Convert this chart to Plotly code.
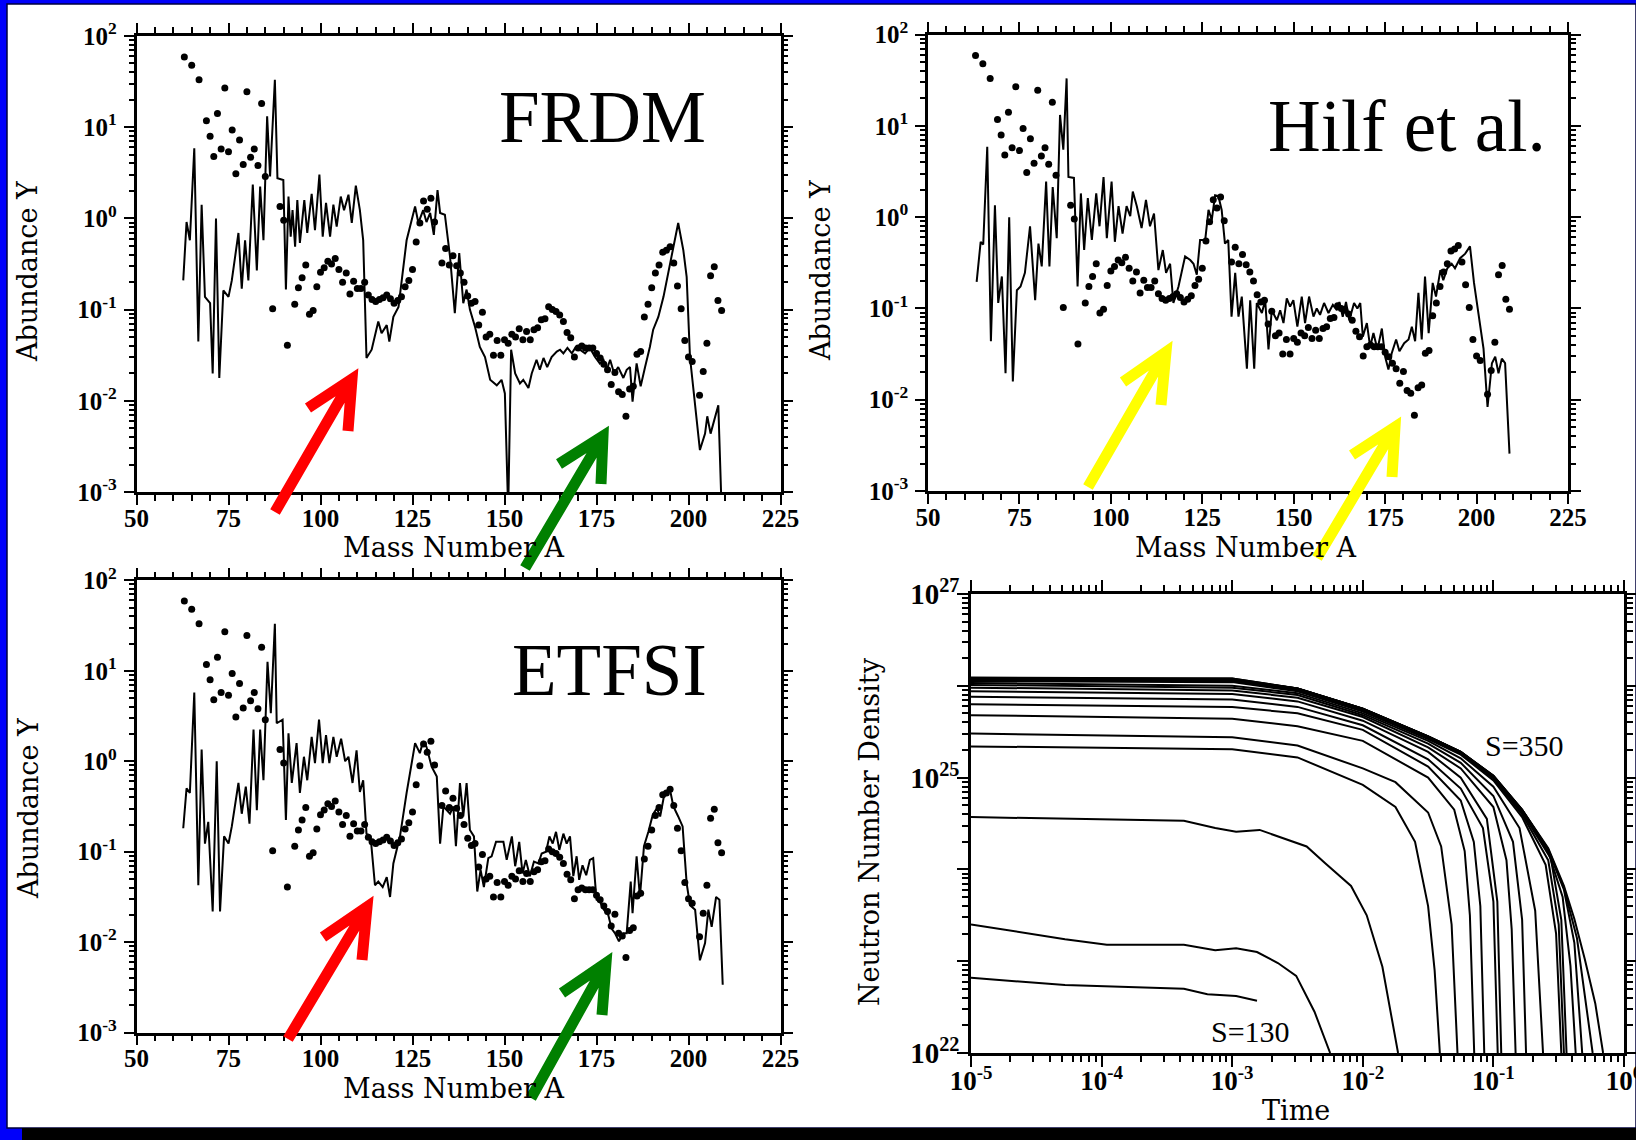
import numpy as np
import plotly.graph_objects as go

W, H = 1636, 1140

# ---------------- r-process abundances (log10 Y) ----------------
# solar r-process residuals (dots), shared by the three mass-model panels
solar_A = [63, 65, 67, 69, 70, 71, 72, 73, 74, 75,
           76, 77, 78, 79, 80, 81, 82, 83, 84, 85,
           87, 89, 90, 91, 93, 94, 95, 96, 97, 98,
           99, 100, 101, 102, 103, 104, 105, 106, 107, 108,
           109, 110, 111, 112, 113, 114, 115, 116, 117, 118,
           119, 120, 121, 122, 123, 124, 125, 126, 127, 128,
           129, 130, 131, 133, 134, 135, 136, 137, 138, 139,
           140, 141, 142, 143, 144, 145, 146, 147, 148, 149,
           150, 151, 152, 153, 154, 155, 156, 157, 158, 159,
           160, 161, 162, 163, 164, 165, 166, 167, 168, 169,
           170, 171, 172, 173, 174, 175, 176, 177, 178, 179,
           180, 181, 182, 183, 184, 185, 186, 187, 188, 189,
           190, 191, 192, 193, 194, 195, 196, 197, 198, 199,
           200, 201, 203, 204, 205, 206, 207, 208, 209]
solar_logY = [1.77, 1.68, 1.52, 1.07, 0.90, 0.68, 1.15, 0.76, 1.43, 0.73,
              0.97, 0.49, 0.86, 0.59, 1.39, 0.67, 0.76, 0.58, 1.26, 0.46,
              -0.99, 0.13, -0.02, -1.39, -0.94, -0.76, -0.65, -0.51, -1.05, -1.01,
              -0.75, -0.59, -0.54, -0.47, -0.50, -0.44, -0.56, -0.70, -0.60, -0.83,
              -0.69, -0.77, -0.77, -0.70, -0.84, -0.89, -0.91, -0.89, -0.87, -0.84,
              -0.88, -0.93, -0.90, -0.86, -0.75, -0.68, -0.56, -0.26, -0.05, 0.19,
              0.10, 0.22, -0.04, -0.49, -0.33, -0.51, -0.41, -0.52, -0.60, -0.70,
              -0.85, -0.93, -0.91, -1.17, -1.03, -1.30, -1.27, -1.50, -1.34, -1.50,
              -1.33, -1.37, -1.27, -1.30, -1.21, -1.33, -1.24, -1.33, -1.22, -1.20,
              -1.11, -1.10, -0.97, -1.00, -1.02, -1.06, -1.13, -1.25, -1.31, -1.52,
              -1.42, -1.40, -1.42, -1.42, -1.42, -1.48, -1.53, -1.60, -1.66, -1.82,
              -1.69, -1.90, -1.93, -2.17, -1.87, -1.84, -1.49, -1.46, -1.08, -0.94,
              -0.76, -0.60, -0.51, -0.37, -0.35, -0.31, -0.49, -0.74, -0.99, -1.34,
              -1.52, -1.57, -1.94, -1.68, -1.37, -0.63, -0.53, -0.90, -1.01]

# FRDM calculation (solid line)
frdm_A = [62.7, 63.6, 64.5, 65.7, 66.8, 67.7, 68.6, 70.0, 70.7, 71.6,
          72.5, 73.6, 75.0, 75.9, 77.7, 78.6, 79.5, 80.4, 81.6, 82.7,
          83.6, 84.5, 85.5, 86.3, 87.6, 88.3, 89.9, 90.6, 91.3, 91.9,
          92.4, 93.1, 93.7, 94.4, 95.6, 96.4, 97.6, 98.5, 99.7, 100.6,
          101.5, 102.6, 103.5, 104.4, 105.5, 106.4, 107.6, 108.5, 109.6, 110.7,
          111.6, 112.5, 113.9, 115.7, 116.6, 118.0, 118.7, 119.8, 121.2, 123.4,
          125.7, 126.6, 127.9, 128.8, 129.8, 130.8, 131.8, 132.5, 133.8, 135.2,
          136.5, 137.7, 138.8, 139.7, 140.6, 142.0, 143.3, 144.7, 146.1, 147.9,
          149.2, 150.1, 151.0, 151.8, 152.9, 154.2, 155.1, 156.5, 157.4, 158.7,
          159.6, 160.6, 161.6, 162.8, 164.2, 165.1, 166.0, 167.1, 168.3, 169.2,
          170.5, 171.9, 173.2, 174.6, 175.9, 176.9, 177.8, 178.7, 179.8, 180.9,
          182.3, 183.2, 184.1, 184.8, 185.9, 187.0, 188.2, 189.5, 190.4, 191.8,
          193.2, 194.5, 195.9, 197.2, 198.6, 199.5, 200.4, 201.8, 203.1, 204.5,
          205.1, 206.0, 208.1, 209.0]
frdm_logY = [-0.68, -0.04, -0.24, 0.77, -1.35, 0.15, -0.86, -0.93, -1.70, 0.00,
             -1.75, -0.79, -0.86, -0.68, -0.16, -0.77, -0.24, -0.68, 0.37, -0.57,
             0.35, -0.24, 1.12, 0.46, 1.52, 0.44, 0.42, -0.78, 0.24, -0.20,
             0.09, -0.31, 0.20, -0.27, 0.20, -0.16, 0.27, -0.13, 0.48, -0.20,
             0.17, -0.20, 0.15, -0.09, 0.24, 0.09, 0.26, -0.05, 0.36, 0.09,
             -0.24, -1.53, -1.44, -1.13, -1.26, -1.17, -1.35, -1.08, -0.97, -0.24,
             0.13, -0.05, 0.09, -0.04, 0.06, -0.18, 0.31, 0.06, 0.04, -0.42,
             -1.04, -0.38, -0.93, -0.78, -1.00, -1.19, -1.41, -1.52, -1.77, -1.83,
             -1.77, -1.92, -3.20, -1.44, -1.70, -1.81, -1.77, -1.86, -1.70, -1.55,
             -1.66, -1.53, -1.63, -1.52, -1.46, -1.44, -1.48, -1.42, -1.48, -1.42,
             -1.44, -1.48, -1.42, -1.52, -1.59, -1.55, -1.66, -1.55, -1.70, -1.63,
             -1.75, -1.66, -1.63, -2.01, -1.59, -1.84, -1.63, -1.41, -1.22, -1.08,
             -0.86, -0.60, -0.31, -0.05, -0.35, -0.64, -1.52, -2.06, -2.54, -2.36,
             -2.17, -2.36, -2.05, -3.20]

# Hilf et al. calculation (solid line)
hilf_A = [63.3, 64.4, 65.1, 66.2, 67.2, 68.3, 69.2, 70.2, 71.2, 72.2,
          73.2, 74.3, 75.3, 76.5, 77.9, 79.3, 80.2, 81.1, 82.3, 83.2,
          84.1, 85.2, 86.1, 87.0, 87.9, 88.4, 89.9, 90.9, 91.8, 92.7,
          93.7, 94.8, 96.0, 96.9, 98.0, 98.9, 100.2, 101.1, 102.1, 103.2,
          104.3, 105.3, 106.0, 107.1, 108.4, 109.6, 110.7, 111.8, 113.0, 114.2,
          115.1, 116.2, 117.1, 118.5, 120.3, 121.7, 122.6, 123.5, 124.4, 125.8,
          126.7, 127.6, 128.5, 129.4, 130.3, 131.2, 132.1, 133.0, 134.0, 134.9,
          135.8, 137.2, 138.1, 139.2, 139.9, 141.3, 142.2, 143.1, 144.0, 145.4,
          146.3, 147.2, 148.1, 149.0, 149.9, 151.0, 152.2, 153.1, 154.2, 155.4,
          156.3, 157.2, 158.3, 159.5, 160.7, 161.8, 162.5, 163.4, 164.3, 165.2,
          166.5, 167.4, 168.2, 168.9, 170.0, 170.9, 171.8, 172.9, 174.1, 175.0,
          175.9, 176.8, 178.0, 178.9, 180.2, 181.4, 182.3, 183.2, 184.1, 185.0,
          185.9, 186.9, 188.0, 188.9, 190.1, 190.9, 192.0, 193.2, 194.1, 195.5,
          196.9, 198.2, 199.3, 200.8, 201.9, 203.0, 204.2, 205.1, 206.0, 206.9,
          207.8, 209.0]
hilf_logY = [-0.71, -0.27, -0.30, 0.77, -1.36, 0.13, -0.94, -0.65, -1.71, 0.00,
             -1.80, -0.80, -0.76, -0.61, -0.10, -0.91, -0.29, -0.54, 0.39, -0.54,
             0.33, -0.23, 1.12, 0.74, 1.52, 0.44, 0.43, -0.76, 0.26, -0.36,
             0.21, -0.25, 0.26, -0.10, 0.44, -0.23, 0.39, -0.27, 0.12, -0.18,
             0.12, 0.01, 0.28, 0.12, -0.12, 0.19, -0.10, 0.04, -0.58, -0.36,
             -0.61, -0.51, -0.94, -0.76, -0.43, -0.47, -0.51, -0.63, -0.25, -0.25,
             0.08, -0.03, 0.24, 0.23, 0.08, -0.29, -0.25, -1.09, -0.61, -1.09,
             -0.87, -1.66, -0.91, -1.66, -0.94, -1.05, -0.91, -1.45, -1.02, -1.13,
             -1.02, -1.16, -0.89, -0.98, -0.91, -1.20, -0.87, -1.16, -0.87, -1.09,
             -1.00, -1.07, -0.94, -1.05, -0.96, -1.02, -0.93, -1.09, -0.93, -1.13,
             -0.94, -1.00, -0.94, -1.31, -1.16, -1.42, -1.27, -1.45, -1.22, -1.53,
             -1.67, -1.49, -1.34, -1.47, -1.38, -1.34, -1.20, -1.36, -0.83, -1.34,
             -0.65, -1.27, -0.72, -0.87, -0.58, -0.69, -0.56, -0.51, -0.56, -0.45,
             -0.40, -0.32, -0.72, -1.13, -1.44, -2.08, -1.60, -1.53, -1.71, -1.55,
             -1.60, -2.59]

# ETFSI calculation (solid line)
etfsi_A = [62.7, 63.6, 64.5, 65.7, 66.8, 67.7, 68.6, 69.5, 70.7, 71.8,
           72.7, 73.8, 75.0, 75.9, 77.7, 78.6, 79.7, 80.7, 81.8, 82.7,
           83.6, 84.5, 85.6, 86.5, 87.6, 88.1, 89.7, 90.6, 91.3, 92.2,
           93.5, 94.4, 95.5, 96.4, 97.6, 98.5, 99.6, 100.6, 101.5, 102.4,
           103.5, 104.4, 105.6, 106.7, 107.6, 108.7, 109.8, 110.7, 111.6, 112.5,
           113.6, 114.8, 115.7, 116.9, 118.0, 118.9, 119.8, 121.6, 123.4, 125.7,
           127.0, 127.9, 128.8, 130.2, 131.6, 132.5, 133.4, 134.3, 135.2, 136.1,
           136.8, 137.9, 138.8, 139.7, 140.6, 141.7, 142.6, 143.5, 144.4, 145.6,
           146.5, 147.7, 149.7, 150.6, 152.0, 152.9, 154.0, 154.9, 155.8, 156.9,
           158.0, 159.2, 160.1, 161.3, 162.2, 163.1, 164.0, 164.9, 166.0, 166.9,
           167.8, 168.7, 169.6, 170.3, 171.2, 172.2, 173.2, 174.1, 175.0, 175.9,
           177.0, 178.2, 179.1, 180.0, 181.1, 182.3, 183.2, 184.3, 184.8, 185.9,
           186.8, 187.9, 189.1, 190.3, 191.4, 192.3, 193.4, 195.0, 195.9, 197.2,
           198.4, 199.5, 200.4, 201.8, 203.1, 204.5, 205.4, 206.3, 207.5, 208.4,
           209.3]
etfsi_logY = [-0.74, -0.30, -0.35, 0.76, -1.37, 0.13, -0.91, -0.67, -1.66, 0.00,
              -1.66, -0.83, -0.91, -0.72, -0.24, -0.58, -0.28, -0.69, 0.35, -0.54,
              0.35, -0.21, 1.10, 0.53, 1.52, 0.42, 0.46, -0.65, 0.31, -0.24,
              0.20, -0.35, 0.05, -0.21, 0.27, -0.02, 0.46, -0.02, 0.29, -0.02,
              0.27, 0.05, 0.25, 0.00, 0.05, -0.24, 0.12, -0.34, -0.21, -0.80,
              -0.83, -1.37, -1.33, -1.39, -1.28, -1.50, -1.13, -0.83, -0.35, 0.20,
              0.09, 0.22, 0.16, -0.06, -0.17, -0.91, -0.50, -0.54, -0.58, -0.50,
              -0.94, -0.24, -0.61, -0.24, -0.76, -0.83, -1.44, -1.20, -1.39, -1.07,
              -1.05, -0.89, -0.89, -1.09, -0.83, -1.16, -0.89, -1.24, -1.09, -1.27,
              -1.11, -1.13, -1.02, -1.00, -0.83, -0.91, -0.78, -0.98, -0.80, -0.91,
              -0.83, -1.27, -1.05, -1.31, -1.15, -1.26, -1.09, -1.07, -1.53, -1.55,
              -1.64, -1.70, -1.85, -1.90, -1.99, -1.90, -1.90, -1.33, -1.68, -1.05,
              -1.50, -0.94, -0.78, -0.59, -0.52, -0.61, -0.37, -0.32, -0.50, -0.61,
              -0.72, -1.35, -1.59, -1.64, -2.20, -2.01, -1.64, -1.83, -1.50, -1.53,
              -2.47]

mass_ticks = [50, 75, 100, 125, 150, 175, 200, 225]
abund_exps = [-3, -2, -1, 0, 1, 2]

# ---------------- neutron number density vs time (log10 t, log10 n) ----------------
density_tracks = [
    # S = 130
    ([-5, -4.28, -3.37, -3.19, -2.97, -2.81],
     [22.82, 22.74, 22.70, 22.64, 22.62, 22.57]),
    ([-5, -4.28, -3.96, -3.37, -3.13, -2.97, -2.81, -2.65, -2.51, -2.37, -2.25],
     [23.40, 23.24, 23.18, 23.18, 23.12, 23.14, 23.10, 22.98, 22.84, 22.45, 22.0]),
    ([-5, -3.37, -3.13, -2.97, -2.79, -2.43, -2.29, -2.09, -1.97, -1.85, -1.73],
     [24.57, 24.53, 24.45, 24.41, 24.43, 24.25, 24.07, 23.82, 23.50, 22.94, 22.0]),
    ([-5, -3.0, -2.5, -2.0, -1.75, -1.6, -1.5, -1.45, -1.41],
     [25.34, 25.31, 25.22, 24.92, 24.68, 24.30, 23.60, 22.90, 22.0]),
    ([-5, -3.0, -2.5, -2.0, -1.75, -1.5, -1.4, -1.32, -1.275],
     [25.48, 25.44, 25.35, 25.10, 24.95, 24.62, 24.25, 23.40, 22.0]),
    ([-5, -3.0, -2.5, -2.0, -1.5, -1.3, -1.22, -1.18, -1.147],
     [25.68, 25.64, 25.56, 25.40, 25.00, 24.65, 24.20, 23.50, 22.0]),
    ([-5, -3.0, -2.5, -2.0, -1.5, -1.25, -1.15, -1.10, -1.07],
     [25.80, 25.77, 25.70, 25.52, 25.12, 24.75, 24.30, 23.60, 22.0]),
    ([-5, -3.0, -2.5, -2.0, -1.5, -1.25, -1.08, -1.00, -0.967],
     [25.88, 25.85, 25.77, 25.57, 25.20, 24.88, 24.45, 23.65, 22.0]),
    ([-5, -3.0, -2.5, -2.0, -1.5, -1.25, -1.05, -0.97, -0.94],
     [25.94, 25.91, 25.83, 25.62, 25.28, 25.00, 24.55, 23.65, 22.0]),
    ([-5, -3.0, -2.5, -2.0, -1.5, -1.25, -1.0, -0.90, -0.86, -0.83],
     [25.98, 25.95, 25.87, 25.66, 25.33, 25.10, 24.68, 24.10, 23.35, 22.0]),
    ([-5, -3.0, -2.5, -2.0, -1.5, -1.25, -1.0, -0.85, -0.78, -0.75],
     [26.01, 25.98, 25.90, 25.68, 25.37, 25.16, 24.80, 24.30, 23.45, 22.0]),
    ([-5, -3.0, -2.5, -2.0, -1.5, -1.25, -1.0, -0.80, -0.68, -0.62],
     [26.03, 26.00, 25.92, 25.70, 25.40, 25.21, 24.90, 24.45, 23.55, 22.0]),
    ([-5, -3.0, -2.5, -2.0, -1.5, -1.25, -1.0, -0.78, -0.60, -0.52, -0.48],
     [26.05, 26.04, 25.94, 25.72, 25.42, 25.25, 24.97, 24.57, 24.05, 23.30, 22.0]),
    ([-5, -3.0, -2.5, -2.0, -1.5, -1.25, -1.0, -0.78, -0.58, -0.50, -0.46],
     [26.06, 26.05, 25.95, 25.73, 25.43, 25.26, 24.99, 24.60, 24.10, 23.40, 22.0]),
    ([-5, -3.0, -2.5, -2.0, -1.5, -1.25, -1.0, -0.78, -0.56, -0.48, -0.44],
     [26.07, 26.06, 25.96, 25.74, 25.44, 25.27, 25.00, 24.62, 24.12, 23.45, 22.0]),
    ([-5, -3.0, -2.5, -2.0, -1.5, -1.25, -1.0, -0.78, -0.58, -0.47, -0.41, -0.37],
     [26.07, 26.07, 25.97, 25.75, 25.45, 25.28, 25.01, 24.64, 24.19, 23.70, 22.95, 22.0]),
    ([-5, -3.0, -2.5, -2.0, -1.5, -1.25, -1.0, -0.78, -0.58, -0.46, -0.38, -0.32],
     [26.08, 26.07, 25.97, 25.75, 25.45, 25.28, 25.02, 24.65, 24.21, 23.78, 23.20, 22.0]),
    ([-5, -3.0, -2.5, -2.0, -1.5, -1.25, -1.0, -0.78, -0.58, -0.46, -0.36, -0.24],
     [26.08, 26.08, 25.97, 25.75, 25.45, 25.28, 25.02, 24.65, 24.22, 23.80, 23.25, 22.0]),
    # S = 350
    ([-5, -3.0, -2.5, -2.0, -1.5, -1.25, -1.0, -0.78, -0.58, -0.46, -0.38, -0.30, -0.22, -0.16],
     [26.09, 26.08, 25.97, 25.75, 25.45, 25.28, 25.02, 24.65, 24.23, 23.82, 23.46, 23.02, 22.54, 22.0]),
]

time_exps = [-5, -4, -3, -2, -1, 0]
density_exps = [22, 23, 24, 25, 26, 27]
density_labelled = [22, 25, 27]

# ---------------- page geometry helpers ----------------
def fx(px):
    return px / W


def fy(py):
    return 1 - py / H


SERIF = "Liberation Serif"
TITLE_FONT = dict(family="DejaVu Serif", size=27, color="black")
TICK_FONT = dict(family=SERIF, size=25, color="black", weight="bold")
TIME_TICK_FONT = dict(family=SERIF, size=27, color="black", weight="bold")
DENSITY_TICK_FONT = dict(family=SERIF, size=29, color="black", weight="bold")


def pow10(v):
    return np.power(10.0, np.asarray(v, dtype=float))


def sup(e):
    return f"10<sup>{e}</sup>"


def log_minor(lo, hi):
    return [k * 10.0 ** d for d in range(lo, hi) for k in range(2, 10)]


def mass_axis(x0, x1, anchor):
    return dict(domain=[fx(x0), fx(x1)], anchor=anchor, range=[50, 225],
                tickmode="array", tickvals=mass_ticks,
                ticks="outside", ticklen=10, tickwidth=2, tickcolor="black",
                minor=dict(tickmode="linear", tick0=50, dtick=5, ticks="outside",
                           ticklen=6, tickwidth=1.5, tickcolor="black", showgrid=False),
                showline=True, linewidth=2.5, linecolor="black", mirror="ticks",
                showgrid=False, zeroline=False, tickfont=TICK_FONT,
                ticklabelstandoff=-8)


def abund_axis(y0, y1, anchor):
    return dict(domain=[fy(y1), fy(y0)], anchor=anchor, type="log", range=[-3, 2],
                tickmode="array", tickvals=[10.0 ** e for e in abund_exps],
                ticktext=[sup(e) for e in abund_exps],
                ticks="outside", ticklen=10, tickwidth=2, tickcolor="black",
                minor=dict(tickmode="array", tickvals=log_minor(-3, 2), ticks="outside",
                           ticklen=5, tickwidth=1.5, tickcolor="black", showgrid=False),
                showline=True, linewidth=2.5, linecolor="black", mirror="ticks",
                showgrid=False, zeroline=False, tickfont=TICK_FONT,
                ticklabelstandoff=2)


fig = go.Figure()

panels = [("x", "y", frdm_A, frdm_logY),
          ("x2", "y2", hilf_A, hilf_logY),
          ("x3", "y3", etfsi_A, etfsi_logY)]
for xa, ya, a_vals, logy in panels:
    fig.add_trace(go.Scatter(x=a_vals, y=pow10(logy), xaxis=xa, yaxis=ya,
                             mode="lines", line=dict(color="black", width=2),
                             hoverinfo="skip"))
    fig.add_trace(go.Scatter(x=solar_A, y=pow10(solar_logY), xaxis=xa, yaxis=ya,
                             mode="markers", marker=dict(color="black", size=7),
                             hoverinfo="skip"))

for logt, logn in density_tracks:
    fig.add_trace(go.Scatter(x=pow10(logt), y=pow10(logn), xaxis="x4", yaxis="y4",
                             mode="lines", line=dict(color="black", width=2),
                             hoverinfo="skip"))

layout = dict(
    width=W, height=H, margin=dict(l=0, r=0, t=0, b=0, autoexpand=False),
    paper_bgcolor="rgb(0,0,250)", plot_bgcolor="white", showlegend=False,
    xaxis=mass_axis(136.5, 780.5, "y"), yaxis=abund_axis(36, 492, "x"),
    xaxis2=mass_axis(928, 1568, "y2"), yaxis2=abund_axis(34.6, 491, "x2"),
    xaxis3=mass_axis(136.5, 780.5, "y3"), yaxis3=abund_axis(580.3, 1032.7, "x3"),
    xaxis4=dict(domain=[fx(971), fx(1624)], anchor="y4", type="log", range=[-5, 0],
                tickmode="array", tickvals=[10.0 ** e for e in time_exps],
                ticktext=[sup(e) for e in time_exps],
                ticks="outside", ticklen=11, tickwidth=2, tickcolor="black",
                minor=dict(tickmode="array", tickvals=log_minor(-5, 0), ticks="outside",
                           ticklen=6, tickwidth=1.5, tickcolor="black", showgrid=False),
                showline=True, linewidth=2.5, linecolor="black", mirror="ticks",
                showgrid=False, zeroline=False, tickfont=TIME_TICK_FONT,
                ticklabelstandoff=-9, ticklabeloverflow="allow"),
    yaxis4=dict(domain=[fy(1053), fy(594)], anchor="x4", type="log", range=[22, 27],
                tickmode="array", tickvals=[10.0 ** e for e in density_exps],
                ticktext=[sup(e) if e in density_labelled else "" for e in density_exps],
                ticks="outside", ticklen=11, tickwidth=2, tickcolor="black",
                minor=dict(tickmode="array", tickvals=log_minor(22, 27), ticks="outside",
                           ticklen=6, tickwidth=1.5, tickcolor="black", showgrid=False),
                showline=True, linewidth=2.5, linecolor="black", mirror="ticks",
                showgrid=False, zeroline=False, tickfont=DENSITY_TICK_FONT,
                ticklabelstandoff=-8),
)

# page frame: blue slide border, white sheet, black strip at the bottom
shapes = [
    dict(type="rect", xref="paper", yref="paper", x0=fx(7), x1=fx(W), y0=fy(1128), y1=fy(4),
         fillcolor="white", line=dict(color="rgb(0,0,60)", width=1.5), layer="below"),
    dict(type="rect", xref="paper", yref="paper", x0=fx(22), x1=fx(W), y0=fy(H), y1=fy(1128),
         fillcolor="black", line=dict(width=0), layer="above"),
]

# highlight arrows: (tail, tip, left barb, lower barb, colour)
arrows = [
    ((275, 512), (352, 379), (308, 408), (348, 431), "rgb(255,0,0)"),
    ((525, 568), (603, 436), (559, 464), (601, 484), "rgb(0,128,0)"),
    ((1088, 487), (1166, 352), (1123, 382), (1161, 405), "rgb(255,255,0)"),
    ((1317, 558), (1395, 427), (1352, 455), (1392, 477), "rgb(255,255,0)"),
    ((288, 1039), (367, 907), (323, 937), (362, 960), "rgb(255,0,0)"),
    ((531, 1098), (606, 963), (562, 993), (602, 1015), "rgb(0,128,0)"),
]
for tail, tip, barb1, barb2, col in arrows:
    p = lambda pt: f"{fx(pt[0]):.5f},{fy(pt[1]):.5f}"
    path = f"M{p(tail)} L{p(tip)} M{p(barb1)} L{p(tip)} L{p(barb2)}"
    shapes.append(dict(type="path", xref="paper", yref="paper", path=path,
                       line=dict(color=col, width=11), layer="above"))
layout["shapes"] = shapes

# text: panel names, axis titles, entropy labels
def label(text, x, y, font, angle=0, xanchor="center"):
    return dict(text=text, x=fx(x), y=fy(y), xref="paper", yref="paper",
                xanchor=xanchor, yanchor="middle", showarrow=False,
                textangle=angle, font=font)


BIG = dict(family=SERIF, size=73, color="black")
SLABEL = dict(family=SERIF, size=30, color="black")
layout["annotations"] = [
    label("FRDM", 497, 118, BIG, xanchor="left"),
    label("Hilf et al.", 1266, 126, BIG, xanchor="left"),
    label("ETFSI", 510, 670, BIG, xanchor="left"),
    label("Abundance Y", 28, 271, TITLE_FONT, angle=-90),
    label("Abundance Y", 821, 270, TITLE_FONT, angle=-90),
    label("Abundance Y", 28, 808, TITLE_FONT, angle=-90),
    label("Mass Number A", 454, 548, TITLE_FONT),
    label("Mass Number A", 1245, 548, TITLE_FONT),
    label("Mass Number A", 454, 1088, TITLE_FONT),
    label("Time", 1296, 1110, TITLE_FONT),
    label("Neutron Number Density", 869, 832, TITLE_FONT, angle=-90),
    label("S=350", 1524, 745, SLABEL),
    label("S=130", 1250, 1031, SLABEL),
]

fig.update_layout(layout)
fig.write_html("out.html", post_script="document.body.style.margin='0';")
